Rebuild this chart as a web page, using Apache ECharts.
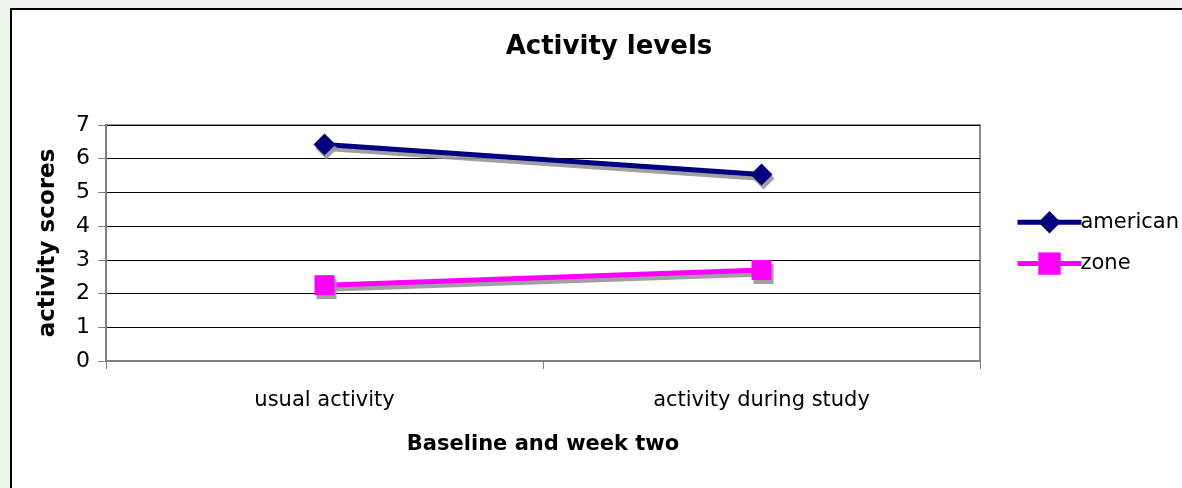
<!DOCTYPE html>
<html>
<head>
<meta charset="utf-8">
<script src="https://cdn.jsdelivr.net/npm/echarts@6/dist/echarts.min.js"></script>
<style>
  html, body { margin: 0; padding: 0; background: #eef3ed; }
  .frame {
    position: absolute; left: 10px; top: 8px; width: 1200px; height: 500px;
    background: #fff; border: 2px solid #000;
  }
  #chart { position: absolute; left: 0; top: 0; width: 1182px; height: 488px; }
</style>
</head>
<body>
<div class="frame"></div>
<div id="chart"></div>
<script>
// categories and values
const categories = ["usual activity", "activity during study"];
const american = [6.42, 5.53];
const zone = [2.25, 2.7];
const yTicks = [0, 1, 2, 3, 4, 5, 6, 7];

const chart = echarts.init(document.getElementById("chart"));

const font = "DejaVu Sans, Verdana, sans-serif";
const shadow = {
  shadowColor: "rgba(150,150,150,0.9)",
  shadowOffsetX: 2,
  shadowOffsetY: 4,
  shadowBlur: 0
};

const option = {
  animation: false,
  title: {
    text: "Activity levels",
    left: 604,
    top: 29,
    textAlign: "center",
    textStyle: { fontFamily: font, fontSize: 26, fontWeight: "bold", color: "#000" }
  },
  legend: {
    orient: "vertical",
    left: 1010,
    top: 206,
    itemWidth: 64,
    itemHeight: 28,
    itemGap: 19,
    textStyle: { fontFamily: font, fontSize: 21, color: "#000", padding: [0, 0, 0, -6] },
    data: [
      { name: "american", lineStyle: { width: 5 } },
      { name: "zone", lineStyle: { width: 5 } }
    ]
  },
  grid: {
    left: 106,
    right: 202,
    top: 125,
    bottom: 127,
    show: true,
    borderColor: "#8c8c8c",
    borderWidth: 2
  },
  xAxis: {
    type: "category",
    data: categories,
    boundaryGap: true,
    name: "Baseline and week two",
    nameLocation: "middle",
    nameGap: 73,
    nameTextStyle: { fontFamily: font, fontSize: 21, fontWeight: "bold", color: "#000" },
    axisLine: { lineStyle: { color: "#808080", width: 2 } },
    axisTick: { show: true, length: 8, lineStyle: { color: "#808080", width: 1 } },
    axisLabel: { fontFamily: font, fontSize: 21, color: "#000", margin: 29 },
    splitLine: { show: false }
  },
  yAxis: {
    type: "value",
    min: yTicks[0],
    max: yTicks[yTicks.length - 1],
    interval: 1,
    name: "activity scores",
    nameLocation: "middle",
    nameGap: 46,
    nameTextStyle: {
      fontFamily: font, fontSize: 23, fontWeight: "bold", color: "#000"
    },
    axisLine: { show: true, lineStyle: { color: "#808080", width: 2 } },
    axisTick: { show: true, length: 8, lineStyle: { color: "#808080", width: 1 } },
    axisLabel: { fontFamily: font, fontSize: 22, color: "#000", margin: 16 },
    splitLine: { show: true, lineStyle: { color: "#000", width: 1 } }
  },
  series: [
    {
      name: "american",
      type: "line",
      data: american,
      symbol: "diamond",
      symbolSize: 22,
      color: "#000080",
      lineStyle: Object.assign({ width: 5, color: "#000080" }, shadow),
      itemStyle: Object.assign({ color: "#000080" }, shadow)
    },
    {
      name: "zone",
      type: "line",
      data: zone,
      symbol: "rect",
      symbolSize: 20,
      color: "#ff00ff",
      lineStyle: Object.assign({ width: 5, color: "#ff00ff" }, shadow),
      itemStyle: Object.assign({ color: "#ff00ff" }, shadow)
    }
  ]
};

chart.setOption(option);
</script>
</body>
</html>
